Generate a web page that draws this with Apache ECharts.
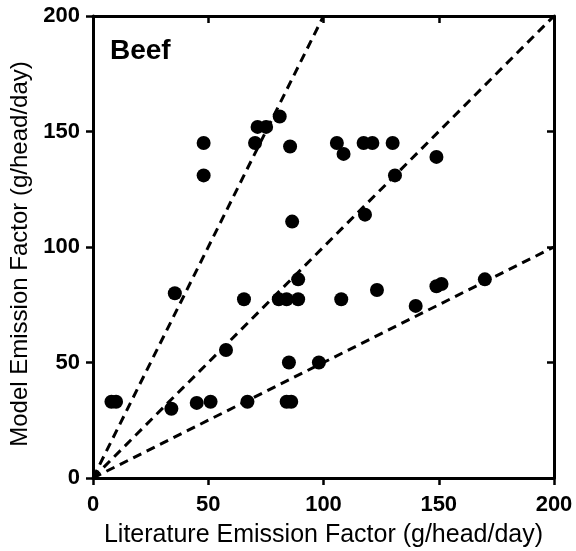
<!DOCTYPE html>
<html>
<head>
<meta charset="utf-8">
<script src="https://cdn.jsdelivr.net/npm/echarts@6/dist/echarts.min.js"></script>
<style>html,body{margin:0;padding:0;background:#fff}#c{width:576px;height:551px}</style>
</head>
<body>
<div id="c"></div>
<script>
var xTicks = [0, 50, 100, 150, 200];
var yTicks = [0, 50, 100, 150, 200];
var literatureEF = [8, 10, 34, 45, 51, 67, 84, 86,
  48, 48, 35.5, 57.7, 65.5, 80.6, 84, 89, 89, 86.4, 85, 98,
  70.3, 71.4, 75.1, 81, 85.5, 105.8, 108.7, 117.4, 121.2, 130, 149, 131,
  107.7, 123.2, 118, 140, 149, 151.2, 170];
var modelEF = [33, 33, 30, 32.5, 33, 33, 33, 33,
  145, 131, 80, 55.4, 77.4, 77.4, 77.4, 77.4, 86, 111, 50, 50,
  145, 152, 152, 156.5, 143.5, 145, 140.3, 145, 145, 145, 139, 131,
  77.4, 81.4, 114, 74.5, 83, 84, 86];
var line2x = [[0, 0], [100, 200]];
var line1x = [[0, 0], [200, 200]];
var lineHalf = [[0, 0], [200, 100]];
var panelLabel = 'Beef';

var points = literatureEF.map(function (x, i) { return [x, modelEF[i]]; });
var FONT = 'Liberation Sans, Arial, Helvetica, sans-serif';
var dashStyle = { color: '#000', width: 3, type: [9, 6] };
function refLine(d) {
  return { type: 'line', data: d, symbol: 'none', lineStyle: dashStyle, silent: true, z: 3 };
}

var chart = echarts.init(document.getElementById('c'), null, { renderer: 'canvas' });
chart.setOption({
  animation: false,
  backgroundColor: '#fff',
  grid: { left: 93, right: 22, top: 16, bottom: 73, containLabel: false, outerBoundsMode: 'none' },
  xAxis: [{
    type: 'value', min: 0, max: 200, interval: 50,
    name: 'Literature Emission Factor (g/head/day)',
    nameLocation: 'middle', nameGap: 45,
    nameTextStyle: { fontFamily: FONT, fontSize: 25, color: '#000' },
    axisLine: { show: true, onZero: false, lineStyle: { color: '#000', width: 3 } },
    axisTick: { show: true, inside: false, length: 7, lineStyle: { color: '#000', width: 2.5 } },
    axisLabel: { fontFamily: FONT, fontSize: 22, fontWeight: 'bold', color: '#000', margin: 16 },
    splitLine: { show: false }
  }, {
    type: 'value', position: 'top', min: 0, max: 200, interval: 50,
    axisLine: { show: true, onZero: false, lineStyle: { color: '#000', width: 3 } },
    axisTick: { show: true, inside: true, length: 7, lineStyle: { color: '#000', width: 2.5 } },
    axisLabel: { show: false },
    splitLine: { show: false }
  }],
  yAxis: [{
    type: 'value', min: 0, max: 200, interval: 50,
    name: 'Model Emission Factor (g/head/day)',
    nameLocation: 'middle', nameGap: 58,
    nameTextStyle: { fontFamily: FONT, fontSize: 24, color: '#000', padding: [0, 14, 0, 0] },
    axisLine: { show: true, onZero: false, lineStyle: { color: '#000', width: 3 } },
    axisTick: { show: true, inside: false, length: 7, lineStyle: { color: '#000', width: 2.5 } },
    axisLabel: { fontFamily: FONT, fontSize: 22, fontWeight: 'bold', color: '#000', margin: 13 },
    splitLine: { show: false }
  }, {
    type: 'value', position: 'right', min: 0, max: 200, interval: 50,
    axisLine: { show: true, onZero: false, lineStyle: { color: '#000', width: 3 } },
    axisTick: { show: true, inside: true, length: 7, lineStyle: { color: '#000', width: 2.5 } },
    axisLabel: { show: false },
    splitLine: { show: false }
  }],
  graphic: [{
    type: 'text', left: 110, top: 37,
    style: { text: panelLabel, font: 'bold 28px ' + FONT, fill: '#000' }
  }],
  series: [
    refLine(line2x), refLine(line1x), refLine(lineHalf),
    {
      type: 'scatter', data: points, symbol: 'circle', symbolSize: 14,
      itemStyle: { color: '#000', opacity: 1 }, z: 4
    }
  ]
});
</script>
</body>
</html>
